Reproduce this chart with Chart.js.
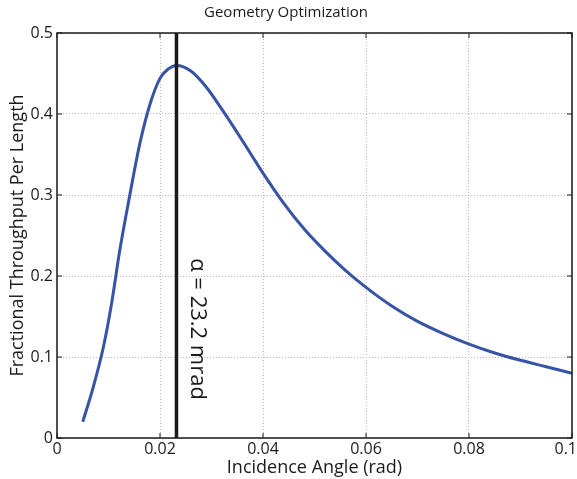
<!DOCTYPE html>
<html>
<head>
<meta charset="utf-8">
<script src="https://cdn.jsdelivr.net/npm/chart.js@4.4.1/dist/chart.umd.min.js"></script>
<style>
  html, body { margin: 0; padding: 0; background: #fff; }
  #wrap { width: 577px; height: 479px; }
</style>
</head>
<body>
<div id="wrap"><canvas id="myChart"></canvas></div>
<script>
// incidence angle (rad) and fractional throughput per length
const angles = [0.005, 0.007, 0.009, 0.0106, 0.0122, 0.0142, 0.0161, 0.0181, 0.020, 0.0215, 0.0232,
  0.026, 0.029, 0.032, 0.035, 0.038, 0.040, 0.044, 0.048, 0.052, 0.056, 0.060,
  0.065, 0.070, 0.075, 0.080, 0.085, 0.090, 0.095, 0.100];
const throughput = [0.020, 0.062, 0.112, 0.166, 0.232, 0.302, 0.364, 0.413, 0.444, 0.455, 0.460,
  0.453, 0.433, 0.406, 0.377, 0.347, 0.327, 0.290, 0.258, 0.231, 0.207, 0.186,
  0.163, 0.144, 0.129, 0.116, 0.105, 0.096, 0.088, 0.080];
const optimumAngle = 0.0232;
const optimumLabel = "\u03b1 = 23.2 mrad";
const xTicks = [0, 0.02, 0.04, 0.06, 0.08, 0.1];
const yTicks = [0, 0.1, 0.2, 0.3, 0.4, 0.5];

const fontFam = "'Open Sans', 'DejaVu Sans', sans-serif";

let curve = angles.map((a, i) => ({ x: a, y: throughput[i] }));
let marker = [{ x: optimumAngle, y: yTicks[0] }, { x: optimumAngle, y: yTicks[yTicks.length - 1] }];

// box round the plot, inner tick marks and the rotated label
const boxPlugin = {
  id: 'box',
  afterDatasetsDraw(chart) {
    const ctx = chart.ctx;
    const a = chart.chartArea;
    const xs = chart.scales.x, ys = chart.scales.y;
    ctx.save();
    ctx.strokeStyle = '#1a1a1a';
    ctx.lineWidth = 1.5;
    ctx.strokeRect(a.left, a.top, a.right - a.left, a.bottom - a.top);
    ctx.lineWidth = 1;
    xTicks.forEach(t => {
      let px = xs.getPixelForValue(t);
      ctx.beginPath();
      ctx.moveTo(px, a.bottom); ctx.lineTo(px, a.bottom - 5);
      ctx.moveTo(px, a.top); ctx.lineTo(px, a.top + 5);
      ctx.stroke();
    });
    yTicks.forEach(t => {
      let py = ys.getPixelForValue(t);
      ctx.beginPath();
      ctx.moveTo(a.left, py); ctx.lineTo(a.left + 5, py);
      ctx.moveTo(a.right, py); ctx.lineTo(a.right - 5, py);
      ctx.stroke();
    });
    // label next to the optimum line
    ctx.translate(xs.getPixelForValue(optimumAngle) + 15, ys.getPixelForValue(0.222));
    ctx.rotate(Math.PI / 2);
    ctx.fillStyle = '#1a1a1a';
    ctx.font = "22px " + fontFam;
    ctx.textAlign = 'left';
    ctx.textBaseline = 'alphabetic';
    ctx.fillText(optimumLabel, 0, 0);
    ctx.restore();
  }
};

new Chart(document.getElementById('myChart'), {
  type: 'scatter',
  data: {
    datasets: [{
      data: curve,
      showLine: true,
      borderColor: '#3753a6',
      borderWidth: 3,
      pointRadius: 0,
      cubicInterpolationMode: 'monotone',
      order: 2
    }, {
      data: marker,
      showLine: true,
      borderColor: '#1a1a1a',
      borderWidth: 3.5,
      pointRadius: 0,
      order: 1
    }]
  },
  plugins: [boxPlugin],
  options: {
    responsive: true,
    maintainAspectRatio: false,
    animation: false,
    layout: { padding: { left: 0, right: 5, top: 0, bottom: 0 } },
    plugins: {
      legend: { display: false },
      tooltip: { enabled: false },
      title: {
        display: true,
        text: 'Geometry Optimization',
        color: '#1a1a1a',
        font: { family: fontFam, size: 15, weight: 'normal' },
        padding: { top: 4, bottom: 11 }
      }
    },
    scales: {
      x: {
        type: 'linear',
        min: 0, max: 0.1,
        afterBuildTicks: s => { s.ticks = xTicks.map(v => ({ value: v })); },
        afterFit: s => { s.height = 41; s.paddingRight = 0; s.paddingLeft = 0; },
        ticks: {
          color: '#1a1a1a',
          padding: 2,
          font: { family: fontFam, size: 16 },
          // last label is pulled inside the window, as in the original
          callback: (v, i, all) => i === all.length - 1 ? String(v) + '   ' : String(v)
        },
        grid: { color: '#b8b8b8', lineWidth: 1, drawTicks: false },
        border: { display: false, dash: [1, 2] },
        title: {
          display: true,
          text: 'Incidence Angle (rad)',
          color: '#1a1a1a',
          font: { family: fontFam, size: 18 },
          padding: { top: 0, bottom: 0 }
        }
      },
      y: {
        type: 'linear',
        min: 0, max: 0.5,
        afterBuildTicks: s => { s.ticks = yTicks.map(v => ({ value: v })); },
        afterFit: s => { s.width = 57; s.paddingTop = 0; s.paddingBottom = 0; },
        ticks: {
          color: '#1a1a1a',
          padding: 4,
          font: { family: fontFam, size: 16 },
          callback: v => String(v)
        },
        grid: { color: '#b8b8b8', lineWidth: 1, drawTicks: false },
        border: { display: false, dash: [1, 2] },
        title: {
          display: true,
          text: 'Fractional Throughput Per Length',
          color: '#1a1a1a',
          font: { family: fontFam, size: 18 },
          padding: { top: 7, bottom: 0 }
        }
      }
    }
  }
});
</script>
</body>
</html>
